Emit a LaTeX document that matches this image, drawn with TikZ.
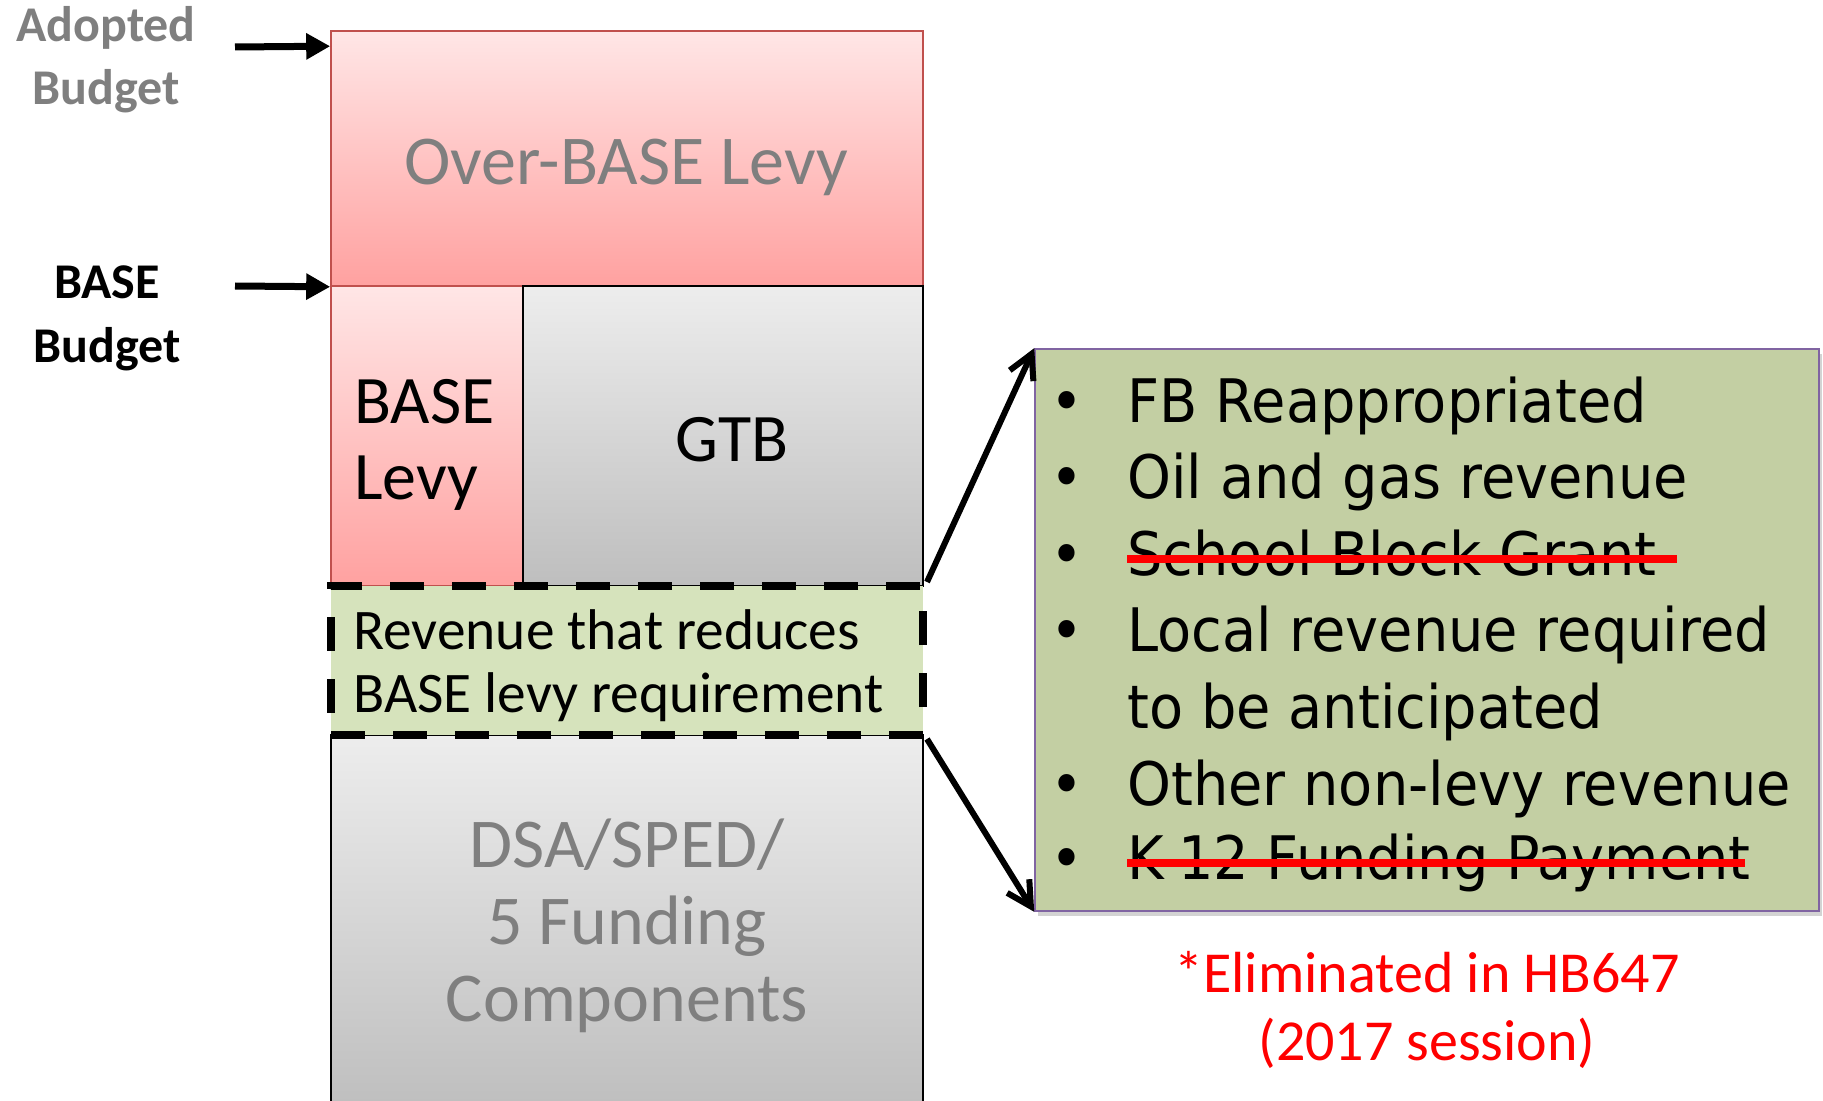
\documentclass[tikz,border=0pt]{standalone}
\usepackage{fontspec}
\setmainfont{Carlito}
\newfontfamily\tahoma[FakeStretch=0.93]{DejaVu Sans}
\usetikzlibrary{arrows.meta,shadows}
\definecolor{pinktop}{HTML}{FFE6E6}
\definecolor{pinkbot}{HTML}{FFA1A0}
\definecolor{pinkline}{HTML}{C0504D}
\definecolor{graytop}{HTML}{EDEDED}
\definecolor{graybot}{HTML}{BEBEBE}
\definecolor{graytxt}{HTML}{7F7F7F}
\definecolor{revfill}{HTML}{D6E3BC}
\definecolor{itemfill}{HTML}{C3CFA3}
\definecolor{itemline}{HTML}{8064A2}
\definecolor{strikered}{HTML}{FF0000}

\begin{document}
\begin{tikzpicture}[x=0.5pt, y=-0.5pt, inner sep=0pt]
	\tikzstyle{pinkbox}=[draw=pinkline, line width=0.8pt, top color=pinktop, bottom color=pinkbot]
	\tikzstyle{graybox}=[draw=black, line width=0.8pt, top color=graytop, bottom color=graybot]
	\tikzstyle{bigarrow}=[line width=3.5pt, -{Triangle[length=12pt,width=12.5pt]}]
	\tikzstyle{callout}=[line width=3pt, -{Straight Barb[length=12pt,width=13pt]}]
	\tikzstyle{strike}=[draw=strikered, line width=3.8pt]
	\tikzstyle{itemtext}=[anchor=base west, align=left, font=\tahoma\fontsize{30pt}{38.25pt}\selectfont]
	\useasboundingbox (0,0) rectangle (1823,1101);

	\node[graybox, minimum width=296pt, minimum height=187.5pt] (dsa) at (627,922.5) {};
	\node[pinkbox, minimum width=296pt, minimum height=127.5pt] (overbase) at (627,158.5) {};
	\node[pinkbox, minimum width=96pt, minimum height=150pt] (baselevy) at (427,436) {};
	\node[graybox, minimum width=200pt, minimum height=150pt] (gtb) at (723,436) {};
	\node[draw=black, fill=revfill, line width=4pt, dash pattern=on 17pt off 14pt,
		minimum width=296pt, minimum height=74.5pt] (revenue) at (627,660.5) {};
	\node[draw=itemline, fill=itemfill, line width=0.8pt,
		drop shadow={opacity=0.35, shadow xshift=1.5pt, shadow yshift=-2.5pt},
		minimum width=392pt, minimum height=281pt] (items) at (1427,630) {};

	\node[anchor=base, text=graytxt, font=\fontsize{35pt}{42pt}\selectfont] (overbaselbl) at (626,185) {Over-BASE Levy};
	\node[anchor=base west, align=left, font=\fontsize{34pt}{38pt}\selectfont] (baselevylbl) at (354,499) {BASE\\Levy};
	\node[anchor=base, font=\fontsize{34pt}{38pt}\selectfont] (gtblbl) at (732,461) {GTB};
	\node[anchor=base west, align=left, font=\fontsize{28.7pt}{31.5pt}\selectfont] (revenuelbl) at (353,712) {Revenue that reduces\\BASE levy requirement};
	\node[anchor=base, align=center, text=graytxt, font=\fontsize{35pt}{38.5pt}\selectfont] (dsalbl) at (627,1021) {DSA/SPED/\\5 Funding\\Components};

	\node[anchor=base, align=center, text=graytxt, font=\bfseries\fontsize{25pt}{31.5pt}\selectfont] (adopted) at (106,105) {Adopted\\Budget};
	\node[anchor=base, align=center, font=\bfseries\fontsize{25pt}{32pt}\selectfont] (basebudget) at (107,362) {BASE\\Budget};
	\coordinate (adoptfrom) at (235,47);
	\coordinate (basefrom) at (235,286);
	\draw[bigarrow] (adoptfrom) -- ([yshift=-8pt]overbase.north west);
	\draw[bigarrow] (basefrom) -- (overbase.south west);

	\foreach \n/\y/\ly/\txt in {1/422/422/FB Reappropriated, 2/498/498/Oil and gas revenue, 3/575/575/School Block Grant,
		4/651/728/{Local revenue required\\to be anticipated}, 5/805/805/Other non-levy revenue, 6/879/879/K-12 Funding Payment} {
		\node[itemtext, anchor=base] (dot\n) at (1067,\y) {\textbullet};
		\node[itemtext] (it\n) at (1127,\ly) {\txt};
	}
	\draw[strike] ([yshift=8pt]it3.base west) -- ([yshift=8pt,xshift=10pt]it3.base east);
	\draw[strike] ([yshift=8pt]it6.base west) -- ([yshift=8pt,xshift=-3pt]it6.base east);

	\draw[callout] (revenue.north east) -- (items.north west);
	\draw[callout] (revenue.south east) -- (items.south west);

	\node[anchor=base, align=center, text=strikered, font=\fontsize{29pt}{34pt}\selectfont] (elim) at (1427,1060) {*Eliminated in HB647\\(2017 session)};
\end{tikzpicture}
\end{document}
